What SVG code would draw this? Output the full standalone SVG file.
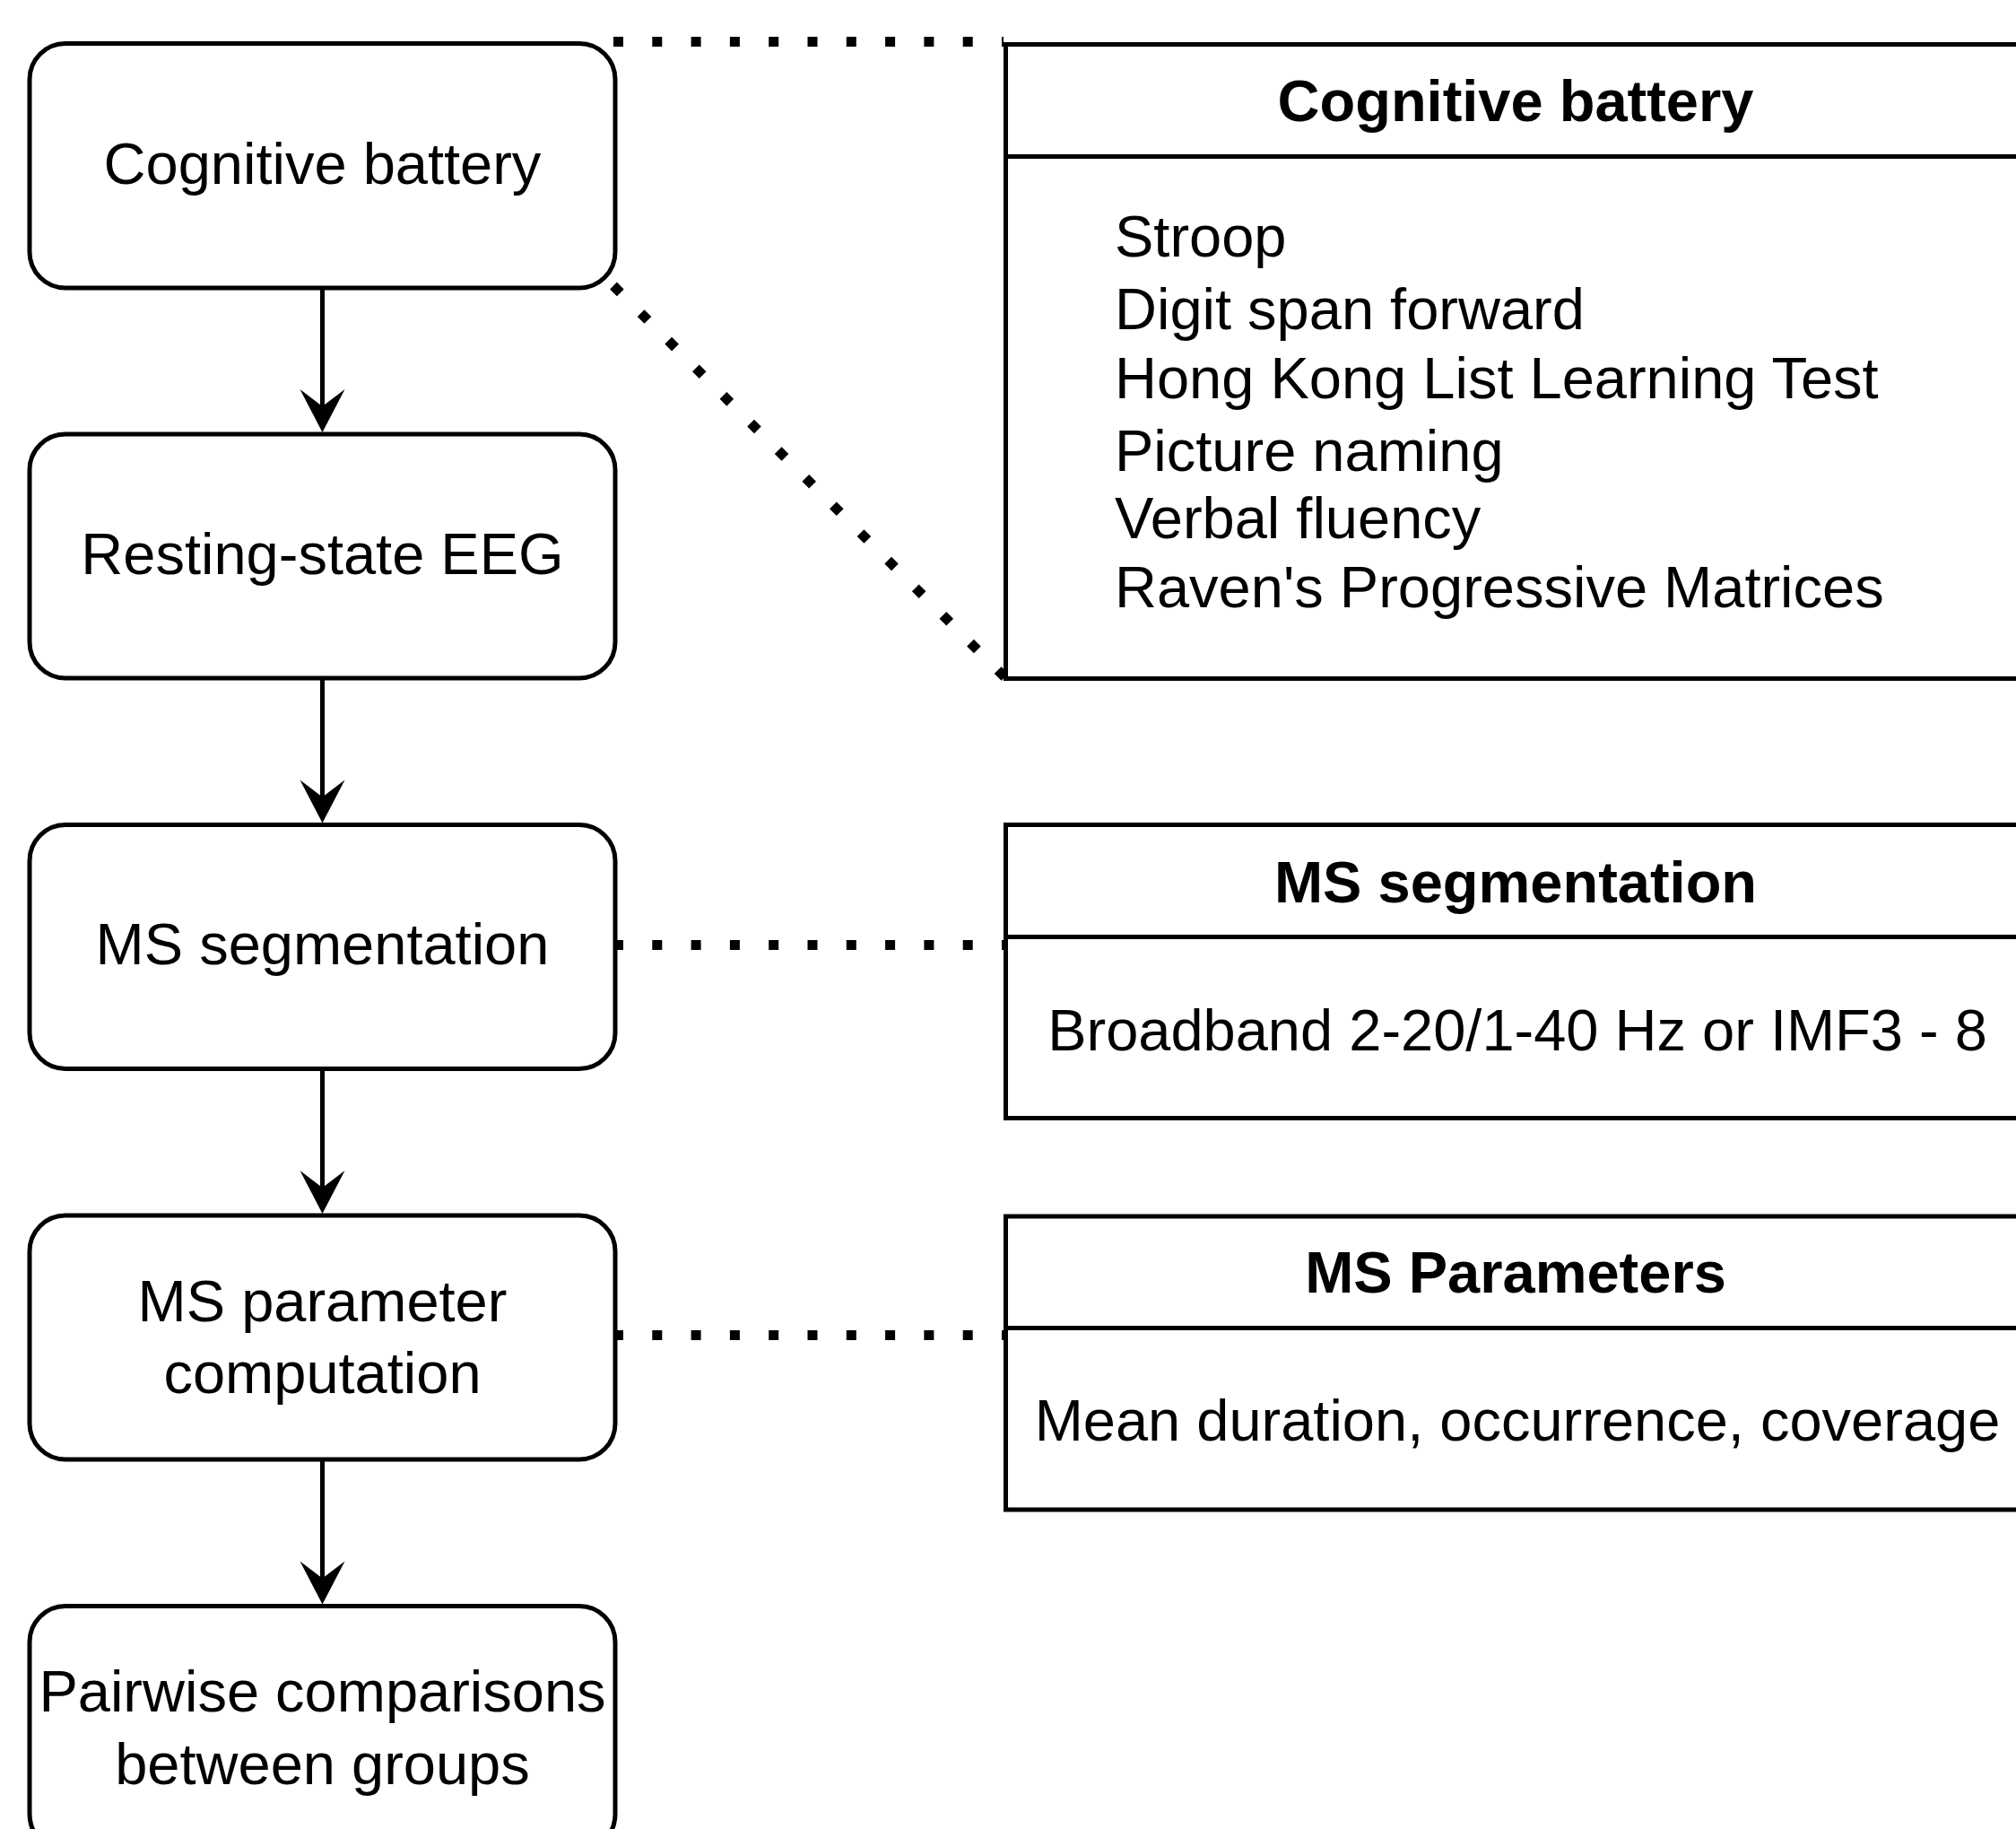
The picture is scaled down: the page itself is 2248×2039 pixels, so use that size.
<svg xmlns="http://www.w3.org/2000/svg" width="2248" height="2039" viewBox="0 0 2248 2039">
<style>
.box{fill:#fff;stroke:#000;stroke-width:5}
.pan{fill:#fff;stroke:#000;stroke-width:5}
.t{font-family:"Liberation Sans",Arial,sans-serif;font-size:65px;fill:#000}
.c{text-anchor:middle}
.b{font-weight:bold}
.con{fill:none;stroke:#000;stroke-width:5}
.dot{fill:none;stroke:#000;stroke-width:11;stroke-dasharray:11 32.3}
</style>
<defs>
<marker id="arr" markerUnits="userSpaceOnUse" markerWidth="50" markerHeight="52" viewBox="0 -1 48 52" refX="24" refY="25" orient="auto">
<path d="M0 0 L48 25 L0 50 L19 25 Z" fill="#000"/>
</marker>
</defs>
<rect width="2248" height="2039" fill="#fff"/>
<g id="connectors">
<line class="con" x1="359.5" y1="321" x2="359.5" y2="458" marker-end="url(#arr)"/>
<line class="con" x1="359.5" y1="756" x2="359.5" y2="893.5" marker-end="url(#arr)"/>
<line class="con" x1="359.5" y1="1191.5" x2="359.5" y2="1329" marker-end="url(#arr)"/>
<line class="con" x1="359.5" y1="1627" x2="359.5" y2="1764.5" marker-end="url(#arr)"/>
<line class="dot" x1="684" y1="46.5" x2="1119" y2="46.5"/>
<line class="dot" x1="684" y1="318.5" x2="1121.5" y2="756"/>
<line class="dot" x1="684" y1="1053.5" x2="1119" y2="1053.5"/>
<line class="dot" x1="684" y1="1488.5" x2="1119" y2="1488.5"/>
</g>
<g id="node-cognitive">
<rect class="box" x="33" y="48.5" width="653" height="272.5" rx="40" ry="40"/>
<text class="t c" x="359.5" y="205">Cognitive battery</text>
</g>
<g id="node-eeg">
<rect class="box" x="33" y="484" width="653" height="272" rx="40" ry="40"/>
<text class="t c" x="359.5" y="640">Resting-state EEG</text>
</g>
<g id="node-seg">
<rect class="box" x="33" y="919.5" width="653" height="272" rx="40" ry="40"/>
<text class="t c" x="359.5" y="1075">MS segmentation</text>
</g>
<g id="node-param">
<rect class="box" x="33" y="1355" width="653" height="272" rx="40" ry="40"/>
<text class="t c" x="359.5" y="1473">MS parameter</text>
<text class="t c" x="359.5" y="1553">computation</text>
</g>
<g id="node-pairwise">
<rect class="box" x="33" y="1790.5" width="653" height="272" rx="40" ry="40"/>
<text class="t c" x="359.5" y="1908">Pairwise comparisons</text>
<text class="t c" x="359.5" y="1989">between groups</text>
</g>
<g id="panel-cognitive">
<rect class="pan" x="1121.5" y="49.5" width="1140" height="707"/>
<line class="pan" x1="1121.5" y1="174.5" x2="2261.5" y2="174.5"/>
<text class="t c b" x="1690" y="135">Cognitive battery</text>
<text class="t" x="1243" y="285.5">Stroop</text>
<text class="t" x="1243" y="367">Digit span forward</text>
<text class="t" x="1243" y="443.5">Hong Kong List Learning Test</text>
<text class="t" x="1243" y="525">Picture naming</text>
<text class="t" x="1243" y="600">Verbal fluency</text>
<text class="t" x="1243" y="677">Raven's Progressive Matrices</text>
</g>
<g id="panel-seg">
<rect class="pan" x="1121.5" y="919.5" width="1140" height="327"/>
<line class="pan" x1="1121.5" y1="1044.5" x2="2261.5" y2="1044.5"/>
<text class="t c b" x="1690" y="1006">MS segmentation</text>
<text class="t c" x="1692" y="1171">Broadband 2-20/1-40 Hz or IMF3 - 8</text>
</g>
<g id="panel-param">
<rect class="pan" x="1121.5" y="1356" width="1140" height="327"/>
<line class="pan" x1="1121.5" y1="1480.5" x2="2261.5" y2="1480.5"/>
<text class="t c b" x="1690" y="1441">MS Parameters</text>
<text class="t c" x="1692" y="1606">Mean duration, occurrence, coverage</text>
</g>
</svg>
